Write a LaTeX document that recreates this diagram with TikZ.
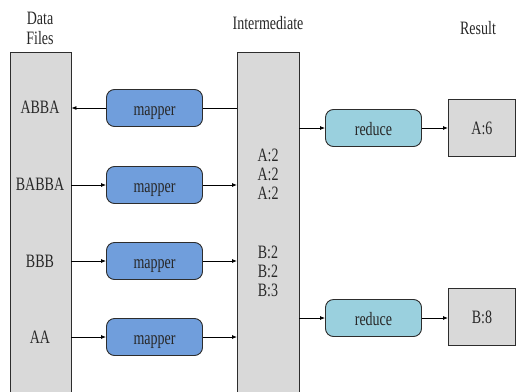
\documentclass[tikz,border=0pt]{standalone}
\usepackage{fontspec}
\usepackage{graphicx}
\setmainfont{Liberation Serif}
\usetikzlibrary{arrows.meta}
\definecolor{mapblue}{RGB}{112,158,220}
\definecolor{redcyan}{RGB}{154,208,222}
\definecolor{panel}{RGB}{217,217,217}
\definecolor{edge}{RGB}{45,45,45}
\definecolor{ink}{RGB}{40,40,40}
% tall, narrow lettering used throughout
\newcommand\tallword[1]{\scalebox{1}[1.35]{#1}}
\tikzset{
  panelbox/.style={draw=edge, fill=panel, line width=0.9pt},
  mapbox/.style={draw=edge, fill=mapblue, line width=0.9pt, rounded corners=8pt,
    minimum width=96pt, minimum height=37pt, inner sep=0pt, text=ink,
    text height=14pt, text depth=0pt,
    font=\fontsize{14}{16}\selectfont},
  redbox/.style={mapbox, fill=redcyan},
  resbox/.style={draw=edge, fill=panel, line width=0.9pt, text=ink,
    minimum width=67pt, minimum height=57pt, inner sep=0pt,
    font=\fontsize{14}{16}\selectfont},
  lbl/.style={inner sep=0pt, text=ink, font=\fontsize{14}{16}\selectfont},
  conn/.style={draw=black, line width=0.8pt},
  arr/.style={conn, -{Latex[length=5pt,width=4pt]}}
}
\begin{document}
\begin{tikzpicture}[x=1pt,y=-1pt]
\useasboundingbox (0,0) rectangle (516,391);

% column headings
\node[lbl] (hdata1) at (40,18) {\tallword{Data}};
\node[lbl] (hdata2) at (40,38) {\tallword{Files}};
\node[lbl] (hinter) at (268,23) {\tallword{Intermediate}};
\node[lbl] (hres) at (478,28) {\tallword{Result}};

% tall panels running off the bottom edge
\path[panelbox] (10,52) rectangle (71,400);
\node[inner sep=0pt, minimum width=61pt, minimum height=348pt, anchor=north west] (data) at (10,52) {};
\path[panelbox] (237,52) rectangle (299,400);
\node[inner sep=0pt, minimum width=62pt, minimum height=348pt, anchor=north west] (inter) at (237,52) {};

% input records
\node[lbl] (d1) at (40,107) {\tallword{ABBA}};
\node[lbl] (d2) at (40,184) {\tallword{BABBA}};
\node[lbl] (d3) at (40,261) {\tallword{BBB}};
\node[lbl] (d4) at (40,337) {\tallword{AA}};

% intermediate pairs
\node[lbl] (a1) at (268,155) {\tallword{A:2}};
\node[lbl] (a2) at (268,174) {\tallword{A:2}};
\node[lbl] (a3) at (268,193) {\tallword{A:2}};
\node[lbl] (b1) at (268,252) {\tallword{B:2}};
\node[lbl] (b2) at (268,271) {\tallword{B:2}};
\node[lbl] (b3) at (268,290) {\tallword{B:3}};

% mappers
\node[mapbox] (m1) at (154.5,108) {\tallword{mapper}};
\node[mapbox] (m2) at (154.5,185) {\tallword{mapper}};
\node[mapbox] (m3) at (154.5,261) {\tallword{mapper}};
\node[mapbox] (m4) at (154.5,337) {\tallword{mapper}};

% reducers
\node[redbox] (r1) at (373.5,128) {\tallword{reduce}};
\node[redbox] (r2) at (373.5,318) {\tallword{reduce}};

% results
\node[resbox, anchor=west] (ra) at (448,128) {\tallword{A:6}};
\node[resbox, anchor=west] (rb) at (448,317) {\tallword{B:8}};

% map stage connectors
\draw[arr] (m1.west) -- (data.east |- m1.west);
\draw[conn] (inter.west |- m1.east) -- (m1.east);
\draw[arr] (data.east |- m2.west) -- (m2.west);
\draw[arr] (m2.east) -- (inter.west |- m2.east);
\draw[arr] (data.east |- m3.west) -- (m3.west);
\draw[arr] (m3.east) -- (inter.west |- m3.east);
\draw[arr] (data.east |- m4.west) -- (m4.west);
\draw[arr] (m4.east) -- (inter.west |- m4.east);

% reduce stage connectors
\draw[arr] (inter.east |- r1.west) -- (r1.west);
\draw[arr] (r1.east) -- (ra.west |- r1.east);
\draw[arr] (inter.east |- r2.west) -- (r2.west);
\draw[arr] (r2.east) -- (rb.west |- r2.east);
\end{tikzpicture}
\end{document}
